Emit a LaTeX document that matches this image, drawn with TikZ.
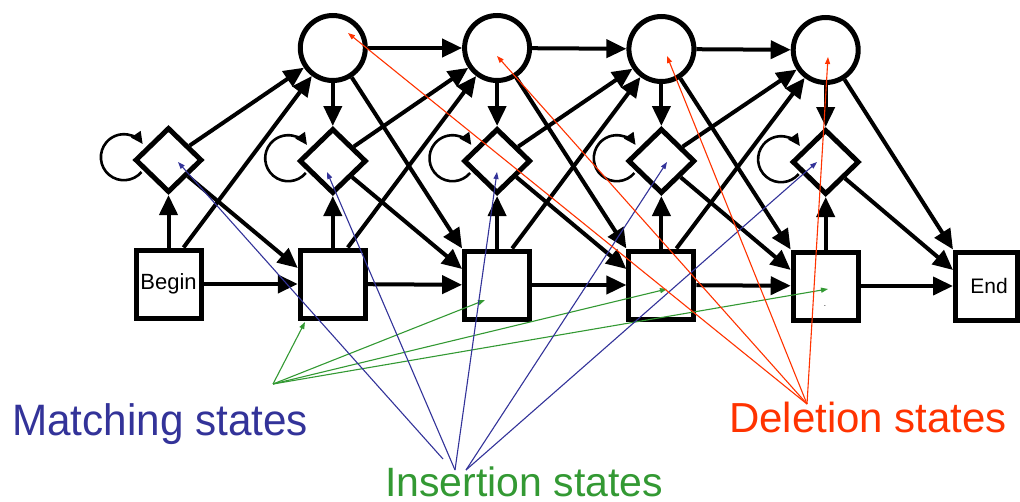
\documentclass[tikz,border=0pt]{standalone}
\usepackage{fontspec}
\usepackage{graphicx}
\setmainfont{Liberation Sans}
\usetikzlibrary{arrows.meta,shapes.geometric,calc}
\definecolor{mblue}{HTML}{333399}
\definecolor{igreen}{HTML}{339933}
\definecolor{dred}{HTML}{FF3300}
\begin{document}
\begin{tikzpicture}[x=1pt,y=-1pt,
  mstate/.style={draw, line width=5pt, minimum width=65pt, minimum height=68pt, inner sep=0pt, fill=white},
  istate/.style={draw, diamond, line width=5pt, minimum width=67pt, minimum height=65pt, inner sep=0pt, fill=white},
  dstate/.style={draw, circle, line width=5pt, minimum size=65pt, inner sep=0pt, fill=white},
  trans/.style={line width=4pt, -{Triangle[length=20pt,width=18pt]}},
  selfloop/.style={line width=2.6pt, -{Triangle[length=12pt,width=11pt]}},
  note/.style={line width=1.1pt, -{Triangle[length=7pt,width=5pt]}},
  lbl/.style={anchor=base west, inner sep=0pt}
]
\useasboundingbox (0,0) rectangle (1020,501);

% matching (square) states
\node[mstate] (M0) at (168.5,284) {\fontsize{22}{24}\selectfont Begin};
\node[mstate] (M1) at (332.8,284) {};
\node[mstate] (M2) at (497.1,285) {};
\node[mstate] (M3) at (661.4,285) {};
\node[mstate] (M4) at (825.7,286) {};
\node[mstate, minimum width=62pt] (E) at (986.5,286) {\fontsize{21}{24}\selectfont\hspace{5pt}End};
\node[inner sep=0pt, font=\fontsize{8}{9}\selectfont] (dot) at (825,306) {.};

% insertion (diamond) states
\node[istate] (I0) at (168.5,160) {};
\node[istate] (I1) at (332.8,161) {};
\node[istate] (I2) at (497.1,161) {};
\node[istate] (I3) at (661.4,161) {};
\node[istate] (I4) at (825.7,162) {};

% deletion (circle) states
\node[dstate] (D1) at (332.8,48) {};
\node[dstate] (D2) at (497.1,48) {};
\node[dstate] (D3) at (661.4,49) {};
\node[dstate] (D4) at (825.7,50) {};

% transitions
\foreach \a/\b in {M0/M1,M1/M2,M2/M3,M3/M4,M4/E,D1/D2,D2/D3,D3/D4}
  \draw[trans] (\a) -- (\b);
\foreach \j in {0,...,4}
  \draw[trans] (M\j) -- (I\j);
\foreach \j in {1,...,4}
  \draw[trans] (D\j) -- (I\j);
\foreach \j/\k in {0/1,1/2,2/3,3/4}{
  \draw[trans] ([xshift=15pt]M\j.north) -- (D\k);
  \draw[trans] (I\j) -- (D\k);
  \draw[trans] (I\j) -- ($(M\k.west)+(0,-16)$);
}
\foreach \j/\k in {1/2,2/3,3/4}
  \draw[trans] (D\j) -- (M\k.north west);
\draw[trans] (I4) -- ($(E.west)+(0,-16)$);
\draw[trans] (D4) -- (E.north west);

% self loops
\foreach \j in {0,...,4}
  \draw[selfloop] ($(I\j)+(-27,12)$) arc[start angle=-40, end angle=-325, radius=23pt];

% labels
\node[lbl, text=mblue] (mt) at (12,435) {\fontsize{44}{50}\selectfont\scalebox{0.96}[1]{Matching states}};
\node[lbl, text=igreen] (it) at (385,496) {\fontsize{41}{48}\selectfont Insertion states};
\node[lbl, text=dred] (dt) at (729,432) {\fontsize{42}{48}\selectfont Deletion states};

% pointer coordinates
\coordinate (gs) at (273,384);
\coordinate (g1) at (305,322);
\coordinate (g2) at (485,300);
\coordinate (g3) at (667,289);
\coordinate (g4) at (828,289);
\coordinate (bs0) at (443,459);
\coordinate (bs1) at (455,470);
\coordinate (bs2) at (466,470);
\coordinate (b0) at (178,162);
\coordinate (b1) at (327,172);
\coordinate (b2) at (497,172);
\coordinate (b3) at (667,162);
\coordinate (b4) at (817,162);
\coordinate (rs) at (807,404);
\coordinate (r1) at (348,33);
\coordinate (r2) at (497,56);
\coordinate (r3) at (667,56);
\coordinate (r4) at (828,57);

\foreach \t in {g1,g2,g3,g4}
  \draw[note, igreen] (gs) -- (\t);
\draw[note, mblue] (bs0) -- (b0);
\draw[note, mblue] (bs1) -- (b1);
\draw[note, mblue] (bs1) -- (b2);
\draw[note, mblue] (bs2) -- (b3);
\draw[note, mblue] (bs2) -- (b4);
\foreach \t in {r1,r2,r3,r4}
  \draw[note, dred] (rs) -- (\t);
\end{tikzpicture}
\end{document}
